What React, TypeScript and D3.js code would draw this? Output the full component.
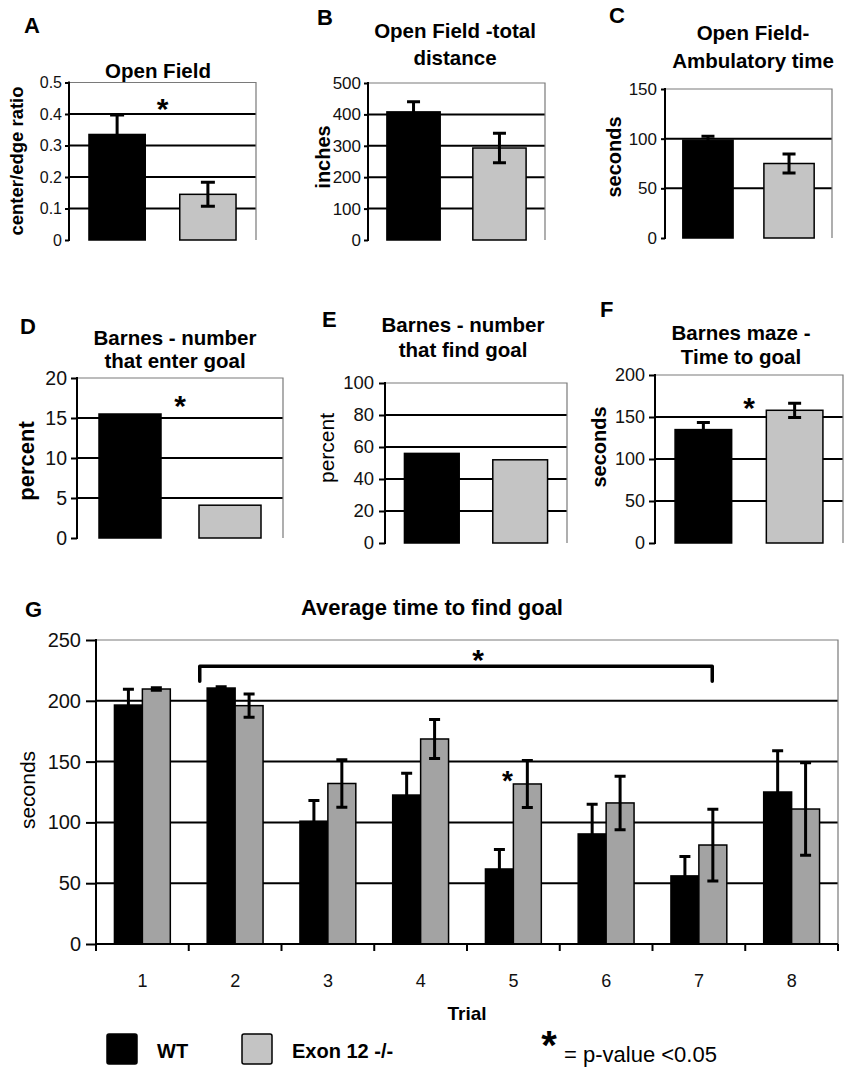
import { useEffect, useRef } from "react";
import * as d3 from "d3";

const groups = ["WT", "Exon 12 -/-"];

// A-F: one value per group
const openFieldRatio = [0.335, 0.145];
const openFieldRatioErr = [0.062, 0.038];
const totalDistance = [408, 293];
const totalDistanceErr = [32, 47];
const ambulatoryTime = [98.5, 75];
const ambulatoryTimeErr = [4, 9.5];
const enterGoalPercent = [15.5, 4.1];
const findGoalPercent = [56, 52];
const timeToGoal = [135, 158];
const timeToGoalErr = [8.5, 8.5];

// G: time to find goal per trial
const trials = ["1", "2", "3", "4", "5", "6", "7", "8"];
const wtTrialTime = [196.5, 210.5, 101, 122.5, 61.7, 90.5, 56, 125];
const wtTrialErr = [13, 1, 17, 18, 16, 24.5, 16, 34];
const koTrialTime = [209.7, 196, 132, 168.6, 131.6, 116, 81.4, 111];
const koTrialErr = [1, 9.5, 19.5, 16, 19.3, 22, 29.5, 38];

const ratioTicks = [0, 0.1, 0.2, 0.3, 0.4, 0.5];
const distanceTicks = [0, 100, 200, 300, 400, 500];
const ambulatoryTicks = [0, 50, 100, 150];
const enterTicks = [0, 5, 10, 15, 20];
const findTicks = [0, 20, 40, 60, 80, 100];
const goalTimeTicks = [0, 50, 100, 150, 200];
const trialTimeTicks = [0, 50, 100, 150, 200, 250];

const FONT = "'Liberation Sans', Arial, Helvetica, sans-serif";
const GREY = "#c4c4c4";
const GREY_DARK = "#a3a3a3";

interface PanelSpec {
	letter: string;
	letterPos: [number, number];
	title: string[];
	titleX: number;
	titleY: number;
	titleGap: number;
	yLabel: string;
	yLabelPos: [number, number];
	yLabelSize: number;
	yLabelWeight: string;
	x0: number;
	x1: number;
	yTop: number;
	yBottom: number;
	ticks: number[];
	tickSize: number;
	tickPad: number;
	tickFont: number;
	values: number[];
	errors?: number[];
	capWidth?: number;
	star?: number;
}

type Sel = d3.Selection<SVGSVGElement, unknown, null, undefined>;

const drawStar = (g: d3.Selection<any, unknown, null, undefined>, x: number, y: number, size: number) => {
	g.append("text")
		.attr("x", x)
		.attr("y", y + size * 0.58)
		.attr("text-anchor", "middle")
		.attr("font-family", FONT)
		.attr("font-weight", "bold")
		.attr("font-size", size)
		.text("*");
};

const drawFrame = (
	svg: Sel,
	y: d3.ScaleLinear<number, number>,
	spec: {
		x0: number;
		x1: number;
		ticks: number[];
		tickSize: number;
		tickPad: number;
		tickFont: number;
	}
) => {
	const { x0, x1, ticks } = spec;
	const maxTick = ticks[ticks.length - 1];

	svg.append("g")
		.selectAll("line")
		.data(ticks.filter((t) => t > 0 && t < maxTick))
		.join("line")
		.attr("x1", x0)
		.attr("x2", x1)
		.attr("y1", (t) => y(t))
		.attr("y2", (t) => y(t))
		.attr("stroke", "#000")
		.attr("stroke-width", 2);

	// light outer box
	svg.append("path")
		.attr("d", `M${x0},${y(maxTick)}H${x1}V${y(0)}`)
		.attr("fill", "none")
		.attr("stroke", "#7a7a7a")
		.attr("stroke-width", 1.2);

	const axis = svg
		.append("g")
		.attr("transform", `translate(${x0},0)`)
		.call(
			d3
				.axisLeft(y)
				.tickValues(ticks)
				.tickSize(spec.tickSize)
				.tickPadding(spec.tickPad)
				.tickFormat((d) => String(+d))
		);
	axis.select(".domain").remove();
	axis.selectAll("line").attr("stroke", "#000").attr("stroke-width", 2);
	axis.selectAll("text")
		.attr("font-family", FONT)
		.attr("font-size", spec.tickFont)
		.attr("fill", "#111");

	svg.append("line")
		.attr("x1", x0)
		.attr("x2", x0)
		.attr("y1", y(maxTick) - 1)
		.attr("y2", y(0) + 1)
		.attr("stroke", "#000")
		.attr("stroke-width", 2);
};

const drawPanel = (svg: Sel, spec: PanelSpec) => {
	const maxTick = spec.ticks[spec.ticks.length - 1];
	const y = d3.scaleLinear().domain([0, maxTick]).range([spec.yBottom, spec.yTop]);
	const x = d3
		.scaleBand()
		.domain(groups)
		.range([spec.x0, spec.x1])
		.paddingInner(0.38)
		.paddingOuter(0.22);

	svg.append("text")
		.attr("x", spec.letterPos[0])
		.attr("y", spec.letterPos[1])
		.attr("font-family", FONT)
		.attr("font-weight", "bold")
		.attr("font-size", 22)
		.text(spec.letter);

	spec.title.forEach((line, i) => {
		svg.append("text")
			.attr("x", spec.titleX)
			.attr("y", spec.titleY + i * spec.titleGap)
			.attr("text-anchor", "middle")
			.attr("font-family", FONT)
			.attr("font-weight", "bold")
			.attr("font-size", 20.5)
			.text(line);
	});

	svg.append("text")
		.attr("transform", `translate(${spec.yLabelPos[0]},${spec.yLabelPos[1]}) rotate(-90)`)
		.attr("text-anchor", "middle")
		.attr("dominant-baseline", "central")
		.attr("font-family", FONT)
		.attr("font-weight", spec.yLabelWeight)
		.attr("font-size", spec.yLabelSize)
		.text(spec.yLabel);

	drawFrame(svg, y, spec);

	const cap = spec.capWidth ?? 13;
	const bars = svg.append("g");
	groups.forEach((grp, i) => {
		const value = spec.values[i];
		const bx = x(grp) ?? 0;
		bars.append("rect")
			.attr("x", bx)
			.attr("y", y(value))
			.attr("width", x.bandwidth())
			.attr("height", y(0) - y(value))
			.attr("fill", i === 0 ? "#000" : GREY)
			.attr("stroke", "#000")
			.attr("stroke-width", 1.5);
		if (spec.errors) {
			const e = spec.errors[i];
			const cx = bx + x.bandwidth() / 2;
			const hi = y(value + e);
			const lo = y(value - e);
			bars.append("path")
				.attr("d", `M${cx},${hi}V${lo}M${cx - cap / 2},${hi}H${cx + cap / 2}M${cx - cap / 2},${lo}H${cx + cap / 2}`)
				.attr("stroke", "#000")
				.attr("stroke-width", 3)
				.attr("fill", "none");
		}
	});

	if (spec.star !== undefined) {
		const cx = ((x(groups[0]) ?? 0) + (x(groups[1]) ?? 0) + x.bandwidth()) / 2;
		drawStar(svg, cx, y(spec.star), 30);
	}
};

export default function App() {
	const ref = useRef<SVGSVGElement>(null);

	useEffect(() => {
		if (!ref.current) {
			return;
		}
		const svg = d3.select(ref.current);
		svg.selectAll("*").remove();

		drawPanel(svg, {
			letter: "A",
			letterPos: [24, 33],
			title: ["Open Field"],
			titleX: 158,
			titleY: 78,
			titleGap: 0,
			yLabel: "center/edge ratio",
			yLabelPos: [16, 161],
			yLabelSize: 18.5,
			yLabelWeight: "bold",
			x0: 69,
			x1: 256,
			yTop: 82.5,
			yBottom: 240,
			ticks: ratioTicks,
			tickSize: 4,
			tickPad: 3,
			tickFont: 16,
			values: openFieldRatio,
			errors: openFieldRatioErr,
			capWidth: 14,
			star: 0.44,
		});

		drawPanel(svg, {
			letter: "B",
			letterPos: [317, 25],
			title: ["Open Field -total", "distance"],
			titleX: 455,
			titleY: 38,
			titleGap: 27,
			yLabel: "inches",
			yLabelPos: [323, 157],
			yLabelSize: 20,
			yLabelWeight: "bold",
			x0: 368,
			x1: 545,
			yTop: 83,
			yBottom: 240,
			ticks: distanceTicks,
			tickSize: 4,
			tickPad: 3,
			tickFont: 17,
			values: totalDistance,
			errors: totalDistanceErr,
			capWidth: 13,
		});

		drawPanel(svg, {
			letter: "C",
			letterPos: [609, 23],
			title: ["Open Field-", "Ambulatory time"],
			titleX: 753,
			titleY: 40,
			titleGap: 28,
			yLabel: "seconds",
			yLabelPos: [614, 157],
			yLabelSize: 20,
			yLabelWeight: "bold",
			x0: 665,
			x1: 832,
			yTop: 89,
			yBottom: 238,
			ticks: ambulatoryTicks,
			tickSize: 4,
			tickPad: 4,
			tickFont: 17,
			values: ambulatoryTime,
			errors: ambulatoryTimeErr,
			capWidth: 13,
		});

		drawPanel(svg, {
			letter: "D",
			letterPos: [20, 334],
			title: ["Barnes - number", "that enter goal"],
			titleX: 175,
			titleY: 345,
			titleGap: 23,
			yLabel: "percent",
			yLabelPos: [26, 461],
			yLabelSize: 22,
			yLabelWeight: "bold",
			x0: 77,
			x1: 283,
			yTop: 378,
			yBottom: 538,
			ticks: enterTicks,
			tickSize: 6,
			tickPad: 4,
			tickFont: 19.5,
			values: enterGoalPercent,
			star: 17.4,
		});

		drawPanel(svg, {
			letter: "E",
			letterPos: [322, 327],
			title: ["Barnes - number", "that find goal"],
			titleX: 463,
			titleY: 332,
			titleGap: 25,
			yLabel: "percent",
			yLabelPos: [326, 448],
			yLabelSize: 21,
			yLabelWeight: "normal",
			x0: 385,
			x1: 567,
			yTop: 383,
			yBottom: 543,
			ticks: findTicks,
			tickSize: 6,
			tickPad: 5,
			tickFont: 18.5,
			values: findGoalPercent,
		});

		drawPanel(svg, {
			letter: "F",
			letterPos: [600, 317],
			title: ["Barnes maze -", "Time to goal"],
			titleX: 741,
			titleY: 340,
			titleGap: 24,
			yLabel: "seconds",
			yLabelPos: [599, 447],
			yLabelSize: 20,
			yLabelWeight: "bold",
			x0: 655,
			x1: 843,
			yTop: 375,
			yBottom: 543,
			ticks: goalTimeTicks,
			tickSize: 6,
			tickPad: 4,
			tickFont: 18,
			values: timeToGoal,
			errors: timeToGoalErr,
			capWidth: 13,
			star: 170,
		});

		// G: grouped bars per trial
		const gx0 = 96;
		const gx1 = 838;
		const gy = d3.scaleLinear().domain([0, 250]).range([944, 640]);
		const trialScale = d3.scaleBand().domain(trials).range([gx0, gx1]);
		const groupScale = d3
			.scaleBand()
			.domain(groups)
			.range([0, trialScale.bandwidth()])
			.paddingOuter(0.66);

		svg.append("text")
			.attr("x", 25)
			.attr("y", 617)
			.attr("font-family", FONT)
			.attr("font-weight", "bold")
			.attr("font-size", 22)
			.text("G");

		svg.append("text")
			.attr("x", 432)
			.attr("y", 615)
			.attr("text-anchor", "middle")
			.attr("font-family", FONT)
			.attr("font-weight", "bold")
			.attr("font-size", 22)
			.text("Average time to find goal");

		svg.append("text")
			.attr("transform", `translate(27,790) rotate(-90)`)
			.attr("text-anchor", "middle")
			.attr("dominant-baseline", "central")
			.attr("font-family", FONT)
			.attr("font-size", 21)
			.text("seconds");

		drawFrame(svg, gy, {
			x0: gx0,
			x1: gx1,
			ticks: trialTimeTicks,
			tickSize: 10,
			tickPad: 5,
			tickFont: 20,
		});

		// bracket for trials 2-7
		const bx1 = (trialScale("2") ?? 0) + 11;
		const bx2 = (trialScale("8") ?? 0) - 33;
		svg.append("path")
			.attr("d", `M${bx1},${gy(216)}V${gy(228.5)}H${bx2}V${gy(216)}`)
			.attr("fill", "none")
			.attr("stroke", "#000")
			.attr("stroke-width", 3.5)
			.attr("stroke-linejoin", "round")
			.attr("stroke-linecap", "round");
		drawStar(svg, 478, gy(240), 30);

		const series = [
			{ values: wtTrialTime, errors: wtTrialErr, fill: "#000" },
			{ values: koTrialTime, errors: koTrialErr, fill: GREY_DARK },
		];
		const barsG = svg.append("g");
		series.forEach((s, si) => {
			trials.forEach((t, ti) => {
				const bx = (trialScale(t) ?? 0) + (groupScale(groups[si]) ?? 0);
				const v = s.values[ti];
				barsG.append("rect")
					.attr("x", bx)
					.attr("y", gy(v))
					.attr("width", groupScale.bandwidth())
					.attr("height", gy(0) - gy(v))
					.attr("fill", s.fill)
					.attr("stroke", "#000")
					.attr("stroke-width", 1.5);
			});
		});
		series.forEach((s, si) => {
			trials.forEach((t, ti) => {
				const cx = (trialScale(t) ?? 0) + (groupScale(groups[si]) ?? 0) + groupScale.bandwidth() / 2;
				const v = s.values[ti];
				const e = s.errors[ti];
				const hi = gy(v + e);
				const lo = gy(v - e);
				barsG.append("path")
					.attr("d", `M${cx},${hi}V${lo}M${cx - 5.5},${hi}H${cx + 5.5}M${cx - 5.5},${lo}H${cx + 5.5}`)
					.attr("stroke", "#000")
					.attr("stroke-width", 3)
					.attr("fill", "none");
			});
		});

		// star over trial 5
		drawStar(svg, (trialScale("5") ?? 0) - 6 + trialScale.bandwidth() / 2, gy(140), 28);

		// x axis
		const xAxis = svg
			.append("g")
			.attr("transform", `translate(0,${gy(0)})`)
			.call(d3.axisBottom(trialScale).tickSize(0).tickPadding(30));
		xAxis.select(".domain").remove();
		xAxis.selectAll("text").attr("font-family", FONT).attr("font-size", 18).attr("fill", "#111");

		svg.append("line")
			.attr("x1", gx0)
			.attr("x2", gx1)
			.attr("y1", gy(0))
			.attr("y2", gy(0))
			.attr("stroke", "#000")
			.attr("stroke-width", 2);
		svg.append("g")
			.selectAll("line")
			.data(d3.range(trials.length + 1))
			.join("line")
			.attr("x1", (i) => gx0 + i * trialScale.step())
			.attr("x2", (i) => gx0 + i * trialScale.step())
			.attr("y1", gy(0))
			.attr("y2", gy(0) + 7)
			.attr("stroke", "#000")
			.attr("stroke-width", 2);

		svg.append("text")
			.attr("x", 467)
			.attr("y", 1020)
			.attr("text-anchor", "middle")
			.attr("font-family", FONT)
			.attr("font-weight", "bold")
			.attr("font-size", 19)
			.text("Trial");

		// legend
		const legend = svg.append("g");
		const legendItems = [
			{ label: groups[0], fill: "#000", x: 107 },
			{ label: groups[1], fill: GREY, x: 242 },
		];
		legendItems.forEach((item) => {
			legend.append("rect")
				.attr("x", item.x)
				.attr("y", 1034)
				.attr("width", 30)
				.attr("height", 30)
				.attr("rx", 2)
				.attr("fill", item.fill)
				.attr("stroke", "#000")
				.attr("stroke-width", 1.5);
			legend.append("text")
				.attr("x", item.x + 50)
				.attr("y", 1058)
				.attr("font-family", FONT)
				.attr("font-weight", "bold")
				.attr("font-size", 20)
				.text(item.label);
		});
		drawStar(legend, 549, 1036, 40);
		legend.append("text")
			.attr("x", 564)
			.attr("y", 1062)
			.attr("font-family", FONT)
			.attr("font-size", 22)
			.text("= p-value <0.05");
	}, []);

	return (
		<svg
			ref={ref}
			width={851}
			height={1068}
			style={{ position: "absolute", left: 0, top: 0, background: "#fff" }}
		/>
	);
}
